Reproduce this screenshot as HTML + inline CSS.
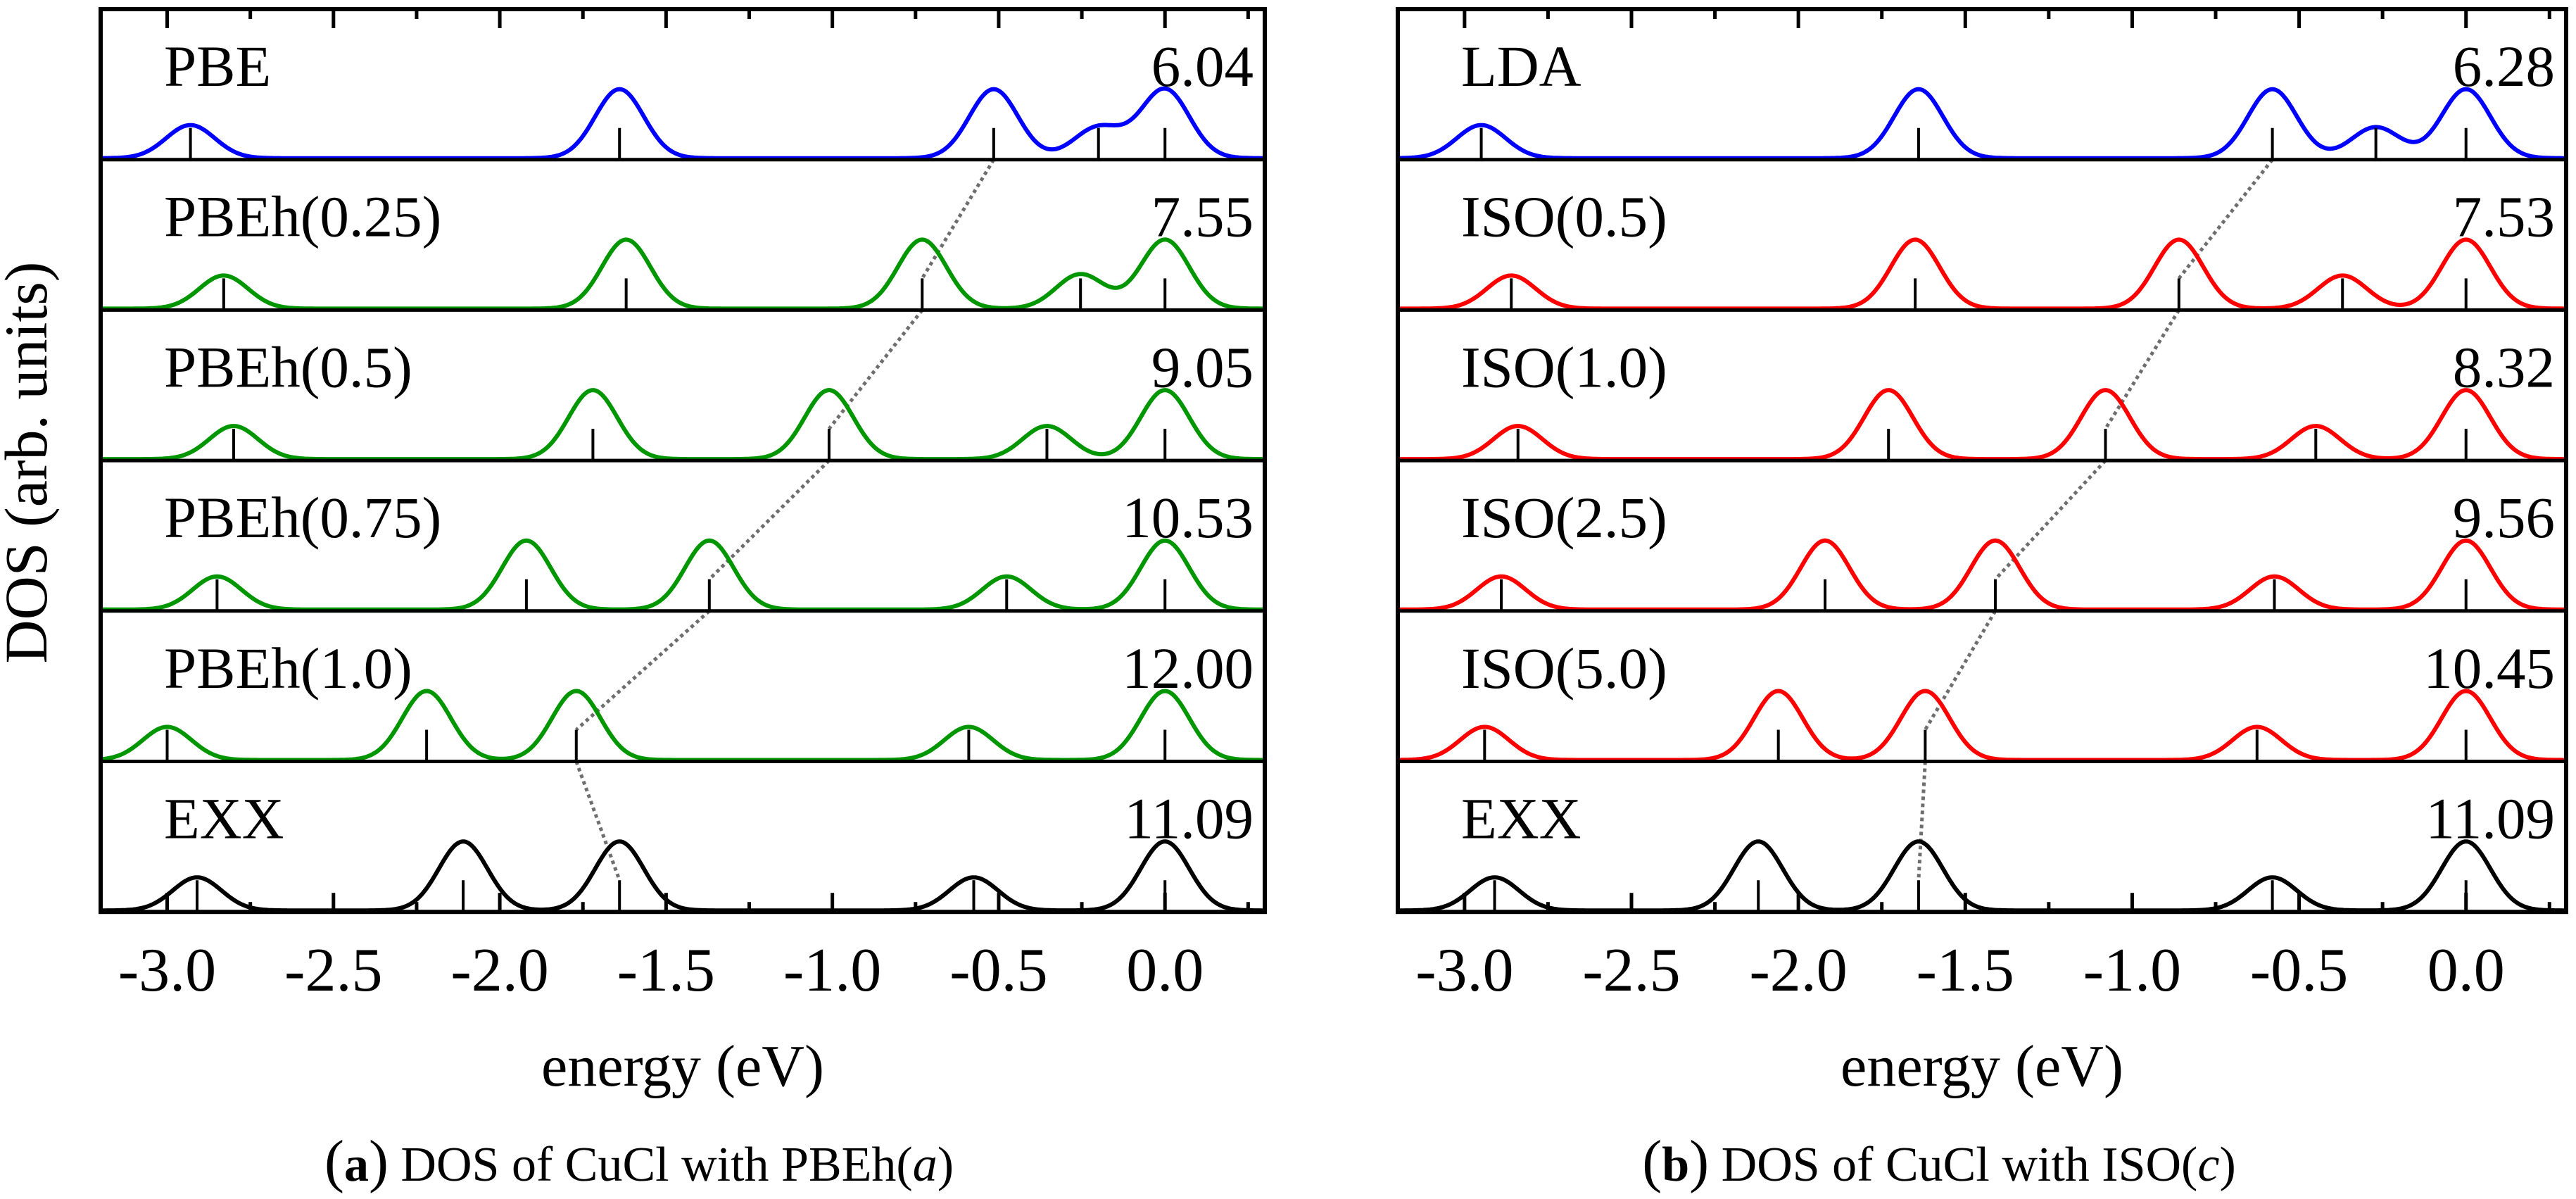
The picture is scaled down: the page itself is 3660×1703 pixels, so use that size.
<!DOCTYPE html>
<html><head><meta charset="utf-8"><style>
html,body{margin:0;padding:0;background:#fff;}
svg{display:block;}
text{font-family:"Liberation Serif",serif;fill:#000;}
</style></head><body>
<svg id="fig" width="3660" height="1703" viewBox="0 0 3660 1703" xmlns="http://www.w3.org/2000/svg"></svg>
<script>
// ---- data ----
const xTicks = [-3.0, -2.5, -2.0, -1.5, -1.0, -0.5, 0.0];
const xTickLabels = ["-3.0", "-2.5", "-2.0", "-1.5", "-1.0", "-0.5", "0.0"];
const xMinorTicks = [-2.75, -2.25, -1.75, -1.25, -0.75, -0.25, 0.25];

const leftLabels = ["PBE", "PBEh(0.25)", "PBEh(0.5)", "PBEh(0.75)", "PBEh(1.0)", "EXX"];
const leftGaps = ["6.04", "7.55", "9.05", "10.53", "12.00", "11.09"];
const leftColors = ["#0000ff", "#009600", "#009600", "#009600", "#009600", "#000000"];
const leftPeaks = [
  [-2.93, -1.64, -0.515, -0.20, 0.0],
  [-2.83, -1.62, -0.73, -0.254, 0.0],
  [-2.80, -1.72, -1.01, -0.355, 0.0],
  [-2.85, -1.92, -1.37, -0.476, 0.0],
  [-3.00, -2.22, -1.77, -0.59, 0.0],
  [-2.91, -2.11, -1.64, -0.575, 0.0]
];
const leftAmps = [
  [0.48, 1, 1, 0.45, 1],
  [0.48, 1, 1, 0.50, 1],
  [0.48, 1, 1, 0.48, 1],
  [0.48, 1, 1, 0.48, 1],
  [0.48, 1, 1, 0.48, 1],
  [0.48, 1, 1, 0.48, 1]
];

const rightLabels = ["LDA", "ISO(0.5)", "ISO(1.0)", "ISO(2.5)", "ISO(5.0)", "EXX"];
const rightGaps = ["6.28", "7.53", "8.32", "9.56", "10.45", "11.09"];
const rightColors = ["#0000ff", "#ff0000", "#ff0000", "#ff0000", "#ff0000", "#000000"];
const rightPeaks = [
  [-2.95, -1.64, -0.58, -0.27, 0.0],
  [-2.86, -1.65, -0.86, -0.37, 0.0],
  [-2.84, -1.73, -1.08, -0.45, 0.0],
  [-2.89, -1.92, -1.41, -0.574, 0.0],
  [-2.94, -2.06, -1.62, -0.626, 0.0],
  [-2.91, -2.12, -1.64, -0.58, 0.0]
];
const rightAmps = [
  [0.48, 1, 1, 0.45, 1],
  [0.48, 1, 1, 0.48, 1],
  [0.48, 1, 1, 0.48, 1],
  [0.48, 1, 1, 0.48, 1],
  [0.48, 1, 1, 0.48, 1],
  [0.48, 1, 1, 0.48, 1]
];
const trackIndex = [2, 2, 2, 2, 2, 2];

// ---- layout ----
const NS = "http://www.w3.org/2000/svg";
const svg = document.getElementById("fig");
const TOP = 13, ROWH = 213.7, NROWS = 6;
const XMIN = -3.2, XMAX = 0.3;
const SIGMA = 0.073, PEAKPX = 98, MARKH = 45;

function mk(tag, attrs, parent) {
  const e = document.createElementNS(NS, tag);
  for (const k in attrs) e.setAttribute(k, attrs[k]);
  (parent || svg).appendChild(e);
  return e;
}

function drawPanel(id, x0, x1, labels, gaps, colors, peaks, amps, xlabelCx, caption, captionCx, capLetter, capVar) {
  const g = mk("g", {});
  
  
  const sx = e => x0 + (e - XMIN) / (XMAX - XMIN) * (x1 - x0);
  const base = i => TOP + ROWH * (i + 1);
  const bottom = base(NROWS - 1);

  let d = "";
  for (let i = 0; i < NROWS - 1; i++) {
    const xa = sx(peaks[i][trackIndex[i]]), ya = base(i);
    const xb = sx(peaks[i + 1][trackIndex[i + 1]]), yb = base(i + 1) - MARKH;
    d += `M${xa},${ya} L${xb},${yb} `;
  }
  const dl = mk("path", {d: d, stroke: "#6e6e6e", "stroke-width": 5, "stroke-dasharray": "5 5", fill: "none"}, g);
  
  

  for (let i = 0; i < NROWS; i++) {
    const rg = mk("g", {}, g);
    
    
    const yb = base(i);
    let p = "";
    for (let px = x0; px <= x1; px += 2) {
      const e = XMIN + (px - x0) / (x1 - x0) * (XMAX - XMIN);
      let v = 0;
      for (let k = 0; k < peaks[i].length; k++) v += amps[i][k] * Math.exp(-Math.pow(e - peaks[i][k], 2) / (2 * SIGMA * SIGMA));
      p += (p ? "L" : "M") + px.toFixed(1) + "," + (yb - 2 - PEAKPX * v).toFixed(1);
    }
    const c = mk("path", {d: p, stroke: colors[i], "stroke-width": 6, fill: "none", "stroke-linejoin": "round"}, rg);
    
    
    for (let k = 0; k < peaks[i].length; k++) {
      const m = mk("line", {x1: sx(peaks[i][k]), x2: sx(peaks[i][k]), y1: yb, y2: yb - MARKH, stroke: "#000", "stroke-width": 4}, rg);
      
      
    }
    if (i < NROWS - 1) {
      const s = mk("line", {x1: x0, x2: x1, y1: yb, y2: yb, stroke: "#000", "stroke-width": 5}, rg);
      
      
    }
    const lt = mk("text", {x: x0 + 90, y: yb - ROWH + 109, "font-size": 83}, rg);
    lt.textContent = labels[i];
    
    
    const gt = mk("text", {x: x1 - 16, y: yb - ROWH + 109, "font-size": 83, "text-anchor": "end"}, rg);
    gt.textContent = gaps[i];
    
    
  }

  for (let k = 0; k < xTicks.length; k++) {
    const x = sx(xTicks[k]);
    const t1 = mk("line", {x1: x, x2: x, y1: TOP, y2: TOP + 27, stroke: "#000", "stroke-width": 5}, g);
    
    
    const t2 = mk("line", {x1: x, x2: x, y1: bottom, y2: bottom - 27, stroke: "#000", "stroke-width": 5}, g);
    
    
    const tl = mk("text", {x: x, y: 1407, "font-size": 88, "text-anchor": "middle"}, g);
    tl.textContent = xTickLabels[k];
    
    
  }
  for (let k = 0; k < xMinorTicks.length; k++) {
    const x = sx(xMinorTicks[k]);
    const t1 = mk("line", {x1: x, x2: x, y1: TOP, y2: TOP + 14, stroke: "#000", "stroke-width": 5}, g);
    
    
    const t2 = mk("line", {x1: x, x2: x, y1: bottom, y2: bottom - 14, stroke: "#000", "stroke-width": 5}, g);
    
    
  }
  const fr = mk("rect", {x: x0, y: TOP, width: x1 - x0, height: bottom - TOP, fill: "none", stroke: "#000", "stroke-width": 6}, g);
  
  

  const xl = mk("text", {x: xlabelCx, y: 1542, "font-size": 84, "text-anchor": "middle"}, g);
  xl.textContent = "energy (eV)";
  
  

  const cap = mk("text", {x: captionCx, y: 1677, "font-size": 70, "text-anchor": "middle"}, g);
  
  
  const a = mk("tspan", {"font-size": 84}, cap); a.textContent = "(";
  const b = mk("tspan", {"font-weight": "bold"}, cap); b.textContent = capLetter;
  const c2 = mk("tspan", {"font-size": 84}, cap); c2.textContent = ")";
  const t = mk("tspan", {}, cap); t.textContent = " " + caption + "(";
  const v = mk("tspan", {"font-style": "italic"}, cap); v.textContent = capVar;
  const e2 = mk("tspan", {}, cap); e2.textContent = ")";
}

drawPanel("panel-a-pbeh", 143, 1797, leftLabels, leftGaps, leftColors, leftPeaks, leftAmps, 970, "DOS of CuCl with PBEh", 908, "a", "a");
drawPanel("panel-b-iso", 1986, 3646, rightLabels, rightGaps, rightColors, rightPeaks, rightAmps, 2816, "DOS of CuCl with ISO", 2755, "b", "c");

const yl = mk("text", {x: 0, y: 0, "font-size": 86, "text-anchor": "middle", transform: "translate(66,657) rotate(-90)"});
yl.textContent = "DOS (arb. units)";


</script>
</body></html>
